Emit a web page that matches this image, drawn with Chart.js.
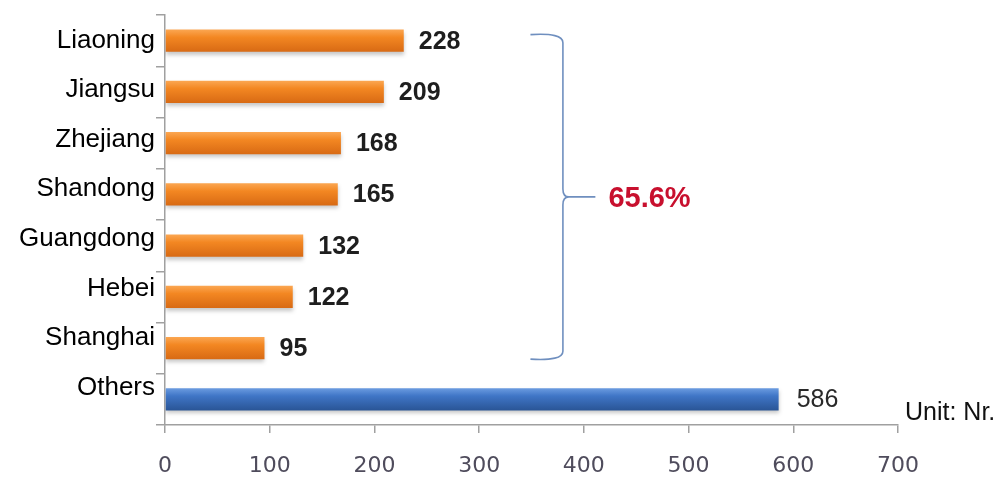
<!DOCTYPE html>
<html>
<head>
<meta charset="utf-8">
<script src="https://cdn.jsdelivr.net/npm/chart.js@4/dist/chart.umd.min.js"></script>
<style>
  body { margin: 0; background: #fff; }
  #wrap { width: 1008px; height: 481px; position: relative; }
</style>
</head>
<body>
<div id="wrap"><canvas id="provChart"></canvas></div>
<script>
const provinces = ['Liaoning', 'Jiangsu', 'Zhejiang', 'Shandong', 'Guangdong', 'Hebei', 'Shanghai', 'Others'];
const counts = [228, 209, 168, 165, 132, 122, 95, 586];
const xTicks = [0, 100, 200, 300, 400, 500, 600, 700];
const shareLabel = '65.6%';
const unitLabel = 'Unit: Nr.';

// orange for top provinces, blue for "Others"
const barGradient = (context) => {
  const chart = context.chart;
  const y = chart.scales && chart.scales.y;
  const isOthers = context.dataIndex === provinces.length - 1;
  const base = isOthers ? '#3d72c4' : '#f2831f';
  if (!y) return base;
  const cy = y.getPixelForValue(context.dataIndex);
  if (!Number.isFinite(cy)) return base;
  const g = chart.ctx.createLinearGradient(0, cy - 11, 0, cy + 11);
  if (isOthers) {
    g.addColorStop(0, '#6a9be0');
    g.addColorStop(0.35, '#3f75c6');
    g.addColorStop(1, '#2a5596');
  } else {
    g.addColorStop(0, '#fba651');
    g.addColorStop(0.35, '#f38722');
    g.addColorStop(1, '#d86a14');
  }
  return g;
};

const extrasPlugin = {
  id: 'extras',
  beforeDatasetsDraw(chart) {
    const ctx = chart.ctx;
    ctx.save();
    ctx.shadowColor = 'rgba(0,0,0,0.22)';
    ctx.shadowBlur = 4;
    ctx.shadowOffsetY = 3;
  },
  afterDatasetsDraw(chart) {
    const ctx = chart.ctx;
    ctx.restore();
    const x = chart.scales.x;
    const y = chart.scales.y;

    ctx.save();
    ctx.textBaseline = 'middle';

    // category names: in the original they sit on a slightly tighter pitch than the bars
    ctx.textAlign = 'right';
    ctx.font = '26px "Liberation Sans", Arial, sans-serif';
    ctx.fillStyle = '#000';
    provinces.forEach((name, i) => {
      ctx.fillText(name, y.left + 155, y.getPixelForValue(i * 0.967));
    });

    // value labels
    ctx.textAlign = 'left';
    const meta = chart.getDatasetMeta(0);
    meta.data.forEach((bar, i) => {
      const isOthers = i === provinces.length - 1;
      ctx.font = isOthers ? '25px "Liberation Sans", Arial, sans-serif'
                          : 'bold 25px "Liberation Sans", Arial, sans-serif';
      ctx.fillStyle = isOthers ? '#2a2a2a' : '#1e1e1e';
      ctx.fillText(counts[i], bar.x + (isOthers ? 18 : 15), bar.y + 1);
    });

    // curly bracket spanning the seven provinces
    const top = y.getPixelForValue(0) - 6;
    const bottom = y.getPixelForValue(6) + 11;
    const mid = (top + bottom) / 2;
    const x0 = x.getPixelForValue(349);
    const x1 = x.getPixelForValue(380);
    const x2 = x.getPixelForValue(411);
    ctx.strokeStyle = '#6f8fbf';
    ctx.lineWidth = 1.6;
    ctx.beginPath();
    ctx.moveTo(x0, top);
    ctx.quadraticCurveTo(x1, top - 2, x1, top + 8);
    ctx.lineTo(x1, mid - 8);
    ctx.quadraticCurveTo(x1, mid, x1 + 6, mid);
    ctx.lineTo(x2, mid);
    ctx.moveTo(x1 + 6, mid);
    ctx.quadraticCurveTo(x1, mid, x1, mid + 8);
    ctx.lineTo(x1, bottom - 8);
    ctx.quadraticCurveTo(x1, bottom + 2, x0, bottom);
    ctx.stroke();

    ctx.font = 'bold 29px "Liberation Sans", Arial, sans-serif';
    ctx.fillStyle = '#c8102e';
    ctx.fillText(shareLabel, x2 + 13, mid + 2);

    // unit note
    ctx.font = '25px "Liberation Sans", Arial, sans-serif';
    ctx.fillStyle = '#111';
    ctx.fillText(unitLabel, x.right + 7, x.top - 12);
    ctx.restore();
  }
};

new Chart(document.getElementById('provChart'), {
  type: 'bar',
  data: {
    labels: provinces,
    datasets: [{
      data: counts,
      backgroundColor: barGradient,
      borderWidth: 0,
      barPercentage: 0.43,
      categoryPercentage: 1
    }]
  },
  options: {
    indexAxis: 'y',
    responsive: true,
    maintainAspectRatio: false,
    animation: false,
    layout: { padding: { top: 15, right: 110, left: 0, bottom: 0 } },
    plugins: {
      legend: { display: false },
      tooltip: { enabled: false }
    },
    scales: {
      x: {
        min: 0,
        max: 700,
        afterBuildTicks: (scale) => { scale.ticks = xTicks.map(v => ({ value: v })); },
        afterFit: (scale) => { scale.height = 56; },
        border: { color: '#a0a0a0', width: 1.5 },
        grid: { drawOnChartArea: false, tickLength: 8, color: '#a0a0a0', lineWidth: 1.5 },
        ticks: {
          padding: 20,
          color: '#4f4c5c',
          font: { family: '"DejaVu Sans", Verdana, sans-serif', size: 22 }
        }
      },
      y: {
        afterFit: (scale) => { scale.width = 165; },
        border: { color: '#a0a0a0', width: 1.5 },
        grid: { drawOnChartArea: false, tickLength: 9, color: '#a0a0a0', lineWidth: 1.5 },
        ticks: { display: false }
      }
    }
  },
  plugins: [extrasPlugin]
});
</script>
</body>
</html>
